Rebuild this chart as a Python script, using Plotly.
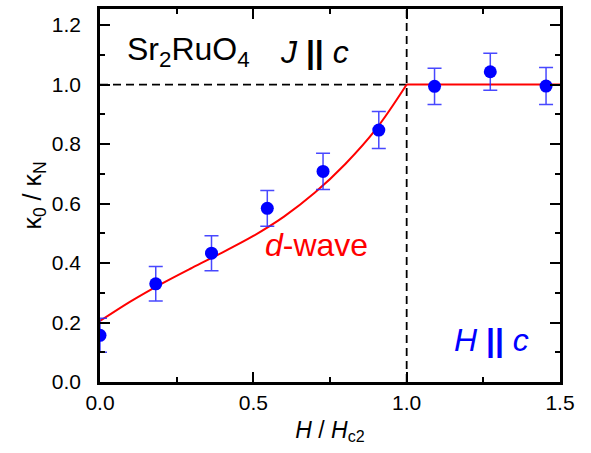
import plotly.graph_objects as go

# data points
h_ratio = [0.0, 0.1818, 0.3636, 0.5455, 0.7273, 0.9091, 1.0909, 1.2727, 1.4545]
kappa = [0.157, 0.330, 0.433, 0.584, 0.708, 0.847, 0.994, 1.043, 0.995]
kappa_err = [0.057, 0.058, 0.059, 0.060, 0.061, 0.062, 0.061, 0.062, 0.062]

# d-wave curve
curve_x = [0.0, 0.1, 0.2, 0.3, 0.4, 0.5, 0.6, 0.7, 0.8, 0.9, 1.0]
curve_y = [0.205, 0.271, 0.330, 0.384, 0.436, 0.491, 0.556, 0.636, 0.733, 0.850, 1.0]
flat_x = [1.0, 1.5]
flat_y = [1.0, 1.0]

FONT = "Liberation Sans, Arial, sans-serif"

fig = go.Figure()
fig.add_trace(go.Scatter(x=curve_x, y=curve_y, mode="lines",
                         line=dict(color="#ff0000", width=2, shape="spline", smoothing=1.0),
                         showlegend=False, hoverinfo="skip"))
fig.add_trace(go.Scatter(x=flat_x, y=flat_y, mode="lines",
                         line=dict(color="#ff0000", width=2),
                         showlegend=False, hoverinfo="skip"))
fig.add_trace(go.Scatter(x=h_ratio, y=kappa, mode="markers",
                         marker=dict(color="#0000ff", size=13),
                         error_y=dict(type="data", array=kappa_err, color="rgba(40,40,255,0.85)",
                                      thickness=1.5, width=7),
                         showlegend=False))

# reference dashed lines
fig.add_shape(type="line", x0=0, x1=1.0, y0=1.0, y1=1.0, xref="x", yref="y",
              line=dict(color="black", width=1.8, dash="8px,5px"), layer="below")
fig.add_shape(type="line", x0=1.0, x1=1.0, y0=0, y1=1.254, xref="x", yref="y",
              line=dict(color="black", width=1.8, dash="8px,5px"), layer="below")

axis_common = dict(showline=True, linecolor="black", linewidth=2.5, mirror="ticks",
                   ticks="inside", ticklen=10, tickwidth=2, tickcolor="black",
                   showgrid=False, zeroline=False,
                   tickfont=dict(family=FONT, size=21, color="black"))

fig.update_xaxes(range=[0, 1.5], tickvals=[0, 0.5, 1.0, 1.5], ticktext=["0.0", "0.5", "1.0", "1.5"],
                 minor=dict(ticks="inside", ticklen=5, tickwidth=2, tickcolor="black", dtick=0.25, tick0=0),
                 title=dict(text="<i>H</i> / <i>H</i><sub>c2</sub>", font=dict(family=FONT, size=23, color="black"),
                            standoff=9),
                 **axis_common)
fig.update_yaxes(range=[0, 1.254], tickvals=[0, 0.2, 0.4, 0.6, 0.8, 1.0, 1.2],
                 ticktext=["0.0", "0.2", "0.4", "0.6", "0.8", "1.0", "1.2"],
                 minor=dict(ticks="inside", ticklen=5, tickwidth=2, tickcolor="black", dtick=0.1, tick0=0),
                 ticklabelstandoff=12,
                 title=dict(text="κ<sub>0</sub> / κ<sub>N</sub>", font=dict(family=FONT, size=25, color="black"),
                            standoff=4),
                 **axis_common)

fig.add_annotation(x=0.083, y=1.11, xref="x", yref="y", xanchor="left", yanchor="middle",
                   text="Sr<sub>2</sub>RuO<sub>4</sub>", showarrow=False,
                   font=dict(family=FONT, size=32, color="black"))
fig.add_annotation(x=0.58, y=1.11, xref="x", yref="y", xanchor="left", yanchor="middle",
                   text="<i>J</i> <b>||</b> <i>c</i>", showarrow=False,
                   font=dict(family=FONT, size=32, color="black"))
fig.add_annotation(x=0.532, y=0.46, xref="x", yref="y", xanchor="left", yanchor="middle",
                   text="<i>d</i>-wave", showarrow=False,
                   font=dict(family=FONT, size=32, color="#ff0000"))
fig.add_annotation(x=1.148, y=0.14, xref="x", yref="y", xanchor="left", yanchor="middle",
                   text="<i>H</i> <b>||</b> <i>c</i>", showarrow=False,
                   font=dict(family=FONT, size=32, color="#0000ff"))

fig.update_layout(width=591, height=453, plot_bgcolor="white", paper_bgcolor="white",
                  margin=dict(l=100, r=31, t=6, b=71), showlegend=False)

fig.write_html("out.html", config={"displayModeBar": False},
               post_script="document.body.style.margin='0';document.body.style.overflow='hidden';")
